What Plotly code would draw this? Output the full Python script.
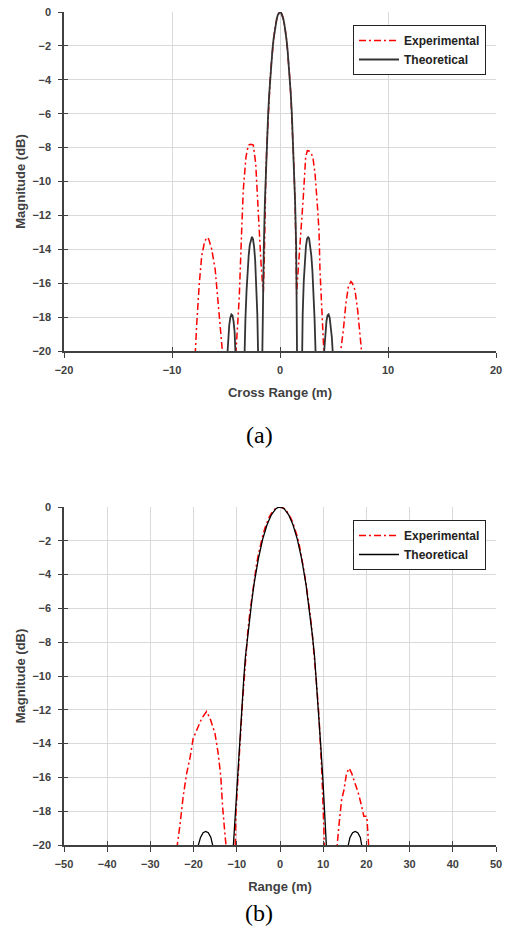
import plotly.graph_objects as go

# ---------------- data: (a) cross range ----------------
cr_theo_x = [-5.0, -4.9, -4.8, -4.7, -4.6, -4.5, -4.4, -4.3, -4.2, -4.1, -4.0, -3.9, -3.8, -3.7, -3.6, -3.5,
             -3.4, -3.3, -3.2, -3.1, -3.0, -2.9, -2.8, -2.7, -2.6, -2.5, -2.4, -2.3, -2.2, -2.1, -2.0, -1.9,
             -1.8, -1.7, -1.6, -1.5, -1.4, -1.3, -1.2, -1.1, -1.0, -0.9, -0.8, -0.7, -0.6, -0.5, -0.4, -0.3,
             -0.2, -0.1, 0.0, 0.1, 0.2, 0.3, 0.4, 0.5, 0.6, 0.7, 0.8, 0.9, 1.0, 1.1, 1.2, 1.3, 1.4, 1.5, 1.6,
             1.7, 1.8, 1.9, 2.0, 2.1, 2.2, 2.3, 2.4, 2.5, 2.6, 2.7, 2.8, 2.9, 3.0, 3.1, 3.2, 3.3, 3.4, 3.5,
             3.6, 3.7, 3.8, 3.9, 4.0, 4.1, 4.2, 4.3, 4.4, 4.5, 4.6, 4.7, 4.8, 4.9, 5.0]
cr_theo_db = [-21.5, -20.24, -19.20, -18.48, -18.03, -17.84, -17.90, -18.25, -18.89, -19.93, -21.48, -23.8,
              -27.6, -35.8, -39.1, -28.06, -23.28, -20.22, -18.10, -16.48, -15.26, -14.37, -13.75, -13.38,
              -13.26, -13.40, -13.84, -14.63, -15.88, -17.84, -21.05, -27.53, -39.1, -23.09, -17.45, -13.86,
              -11.24, -9.16, -7.47, -6.05, -4.85, -3.83, -2.96, -2.23, -1.61, -1.11, -0.70, -0.39, -0.17,
              -0.04, 0.0, -0.04, -0.17, -0.39, -0.70, -1.11, -1.61, -2.23, -2.96, -3.83, -4.85, -6.05, -7.47,
              -9.16, -11.24, -13.86, -17.45, -23.09, -39.1, -27.53, -21.05, -17.84, -15.88, -14.63, -13.84,
              -13.40, -13.26, -13.38, -13.75, -14.37, -15.26, -16.48, -18.10, -20.22, -23.28, -28.06, -39.1,
              -35.8, -27.6, -23.8, -21.48, -19.93, -18.89, -18.25, -17.90, -17.84, -18.03, -18.48, -19.20,
              -20.24, -21.5]

cr_exp_x = [-8.0, -7.85, -7.7, -7.47, -7.25, -7.0, -6.8, -6.6, -6.32, -6.0, -5.86, -5.62, -5.34, -5.2, -4.6,
            -4.2, -4.07, -3.9, -3.77, -3.55, -3.4, -3.15, -2.93, -2.7, -2.47, -2.25, -2.1, -1.91, -1.76, -1.6,
            -1.54, -1.45, -1.4, -1.3, -1.2, -1.1, -1.0, -0.9, -0.8, -0.7, -0.6, -0.5, -0.4, -0.3, -0.2, -0.1,
            0.0, 0.1, 0.2, 0.3, 0.4, 0.5, 0.6, 0.7, 0.8, 0.9, 1.0, 1.1, 1.2, 1.3, 1.4, 1.48, 1.54, 1.62, 1.85,
            2.0, 2.16, 2.38, 2.53, 2.7, 2.9, 3.05, 3.24, 3.45, 3.61, 3.7, 3.86, 4.0, 4.1, 4.8, 5.5, 5.62, 5.86,
            6.1, 6.33, 6.57, 6.7, 6.94, 7.19, 7.4, 7.6, 7.7]
cr_exp_db = [-22, -20.0, -18.3, -16.0, -14.4, -13.6, -13.3, -13.4, -14.0, -15.2, -16.2, -18.0, -19.75, -21,
             -30, -21, -20.0, -18.5, -16.8, -12.9, -10.5, -8.54, -7.85, -7.8, -7.85, -8.93, -10.9, -13.3,
             -14.8, -16.2, -16.5, -14.5, -12.0, -9.3, -7.6, -6.1, -4.9, -3.9, -3.0, -2.2, -1.6, -1.1, -0.7,
             -0.4, -0.17, -0.05, 0.0, -0.05, -0.17, -0.4, -0.72, -1.1, -1.6, -2.25, -3.0, -3.85, -4.9, -6.1,
             -7.6, -9.3, -11.4, -14.0, -16.6, -15.8, -13.85, -12.4, -10.9, -8.54, -8.18, -8.2, -8.35, -8.6,
             -9.5, -11.3, -12.9, -15.2, -18.0, -19.75, -21, -30, -21, -20.0, -18.8, -17.2, -16.2, -15.9,
             -16.0, -16.4, -17.6, -18.8, -19.95, -21]

# ---------------- data: (b) range ----------------
r_theo_x = [-21.5, -19.2, -18.9, -18.4, -17.8, -17.2, -16.6, -16.0, -15.6, -15.3, -13.2, -11.2, -10.8, -10.4,
            -9.9, -9.4, -8.95, -8.4, -8.0, -7.5, -7.0, -6.5, -6.0, -5.0, -4.0, -3.0, -2.0, -1.0, -0.5, 0.0,
            0.5, 1.0, 2.0, 3.0, 4.0, 5.0, 6.0, 6.5, 7.0, 7.5, 8.0, 8.4, 8.95, 9.4, 9.9, 10.4, 10.8, 11.2,
            13.2, 15.5, 15.8, 16.2, 16.8, 17.4, 18.0, 18.6, 18.9, 19.2, 21.5]
r_theo_db = [-30, -21, -20.0, -19.55, -19.27, -19.2, -19.27, -19.55, -20.0, -21, -32, -21.7, -20.0, -18.0,
             -16.0, -14.0, -12.0, -10.2, -8.85, -7.6, -6.5, -5.5, -4.55, -3.06, -1.9, -1.05, -0.46, -0.11,
             -0.03, 0.0, -0.03, -0.11, -0.46, -1.05, -1.9, -3.06, -4.55, -5.5, -6.5, -7.6, -8.85, -10.2,
             -12.0, -14.0, -16.0, -18.0, -20.0, -21.7, -32, -21, -20.0, -19.55, -19.27, -19.2, -19.27, -19.55,
             -20.0, -21, -30]

r_exp_x = [-24.2, -23.77, -23.1, -22.4, -21.6, -20.8, -20.1, -18.9, -18.1, -17.0, -16.2, -15.05, -14.3, -13.7,
           -13.3, -12.7, -12.5, -11.5, -10.5, -10.35, -10.2, -9.64, -9.26, -8.64, -8.0, -7.5, -7.0, -6.5, -6.0,
           -5.5, -5.0, -4.5, -4.0, -3.5, -3.0, -2.5, -2.0, -1.5, -1.0, -0.5, 0.0, 0.5, 1.0, 1.5, 2.0, 2.5,
           3.0, 3.5, 4.0, 4.5, 5.0, 5.5, 6.0, 6.5, 7.0, 7.5, 8.0, 8.5, 9.0, 9.4, 9.7, 10.0, 10.25, 10.4,
           12.5, 13.1, 13.27, 13.7, 14.27, 14.8, 15.4, 16.0, 16.6, 17.36, 18.1, 18.9, 19.4, 20.1, 20.45,
           20.6, 21.0]
r_exp_db = [-22, -20.0, -18.7, -17.1, -15.76, -14.8, -13.7, -13.0, -12.5, -12.1, -12.5, -13.4, -14.6, -15.96,
            -17.7, -19.5, -20.0, -26, -21, -20.0, -18.1, -16.0, -14.0, -11.4, -8.9, -7.5, -6.3, -5.3, -4.3,
            -3.5, -2.8, -2.2, -1.7, -1.25, -0.9, -0.6, -0.38, -0.2, -0.08, -0.02, 0.0, -0.04, -0.1, -0.22,
            -0.4, -0.65, -0.95, -1.35, -1.75, -2.3, -2.9, -3.7, -4.5, -5.4, -6.4, -7.6, -8.9, -10.6, -12.3,
            -14.0, -15.8, -17.9, -19.9, -21, -26, -21, -19.9, -18.7, -17.3, -16.75, -15.76, -15.46, -15.76,
            -16.35, -16.9, -17.7, -18.3, -18.3, -19.5, -19.9, -22]

y_ticks = [0, -2, -4, -6, -8, -10, -12, -14, -16, -18, -20]
cr_ticks = [-20, -10, 0, 10, 20]
r_ticks = [-50, -40, -30, -20, -10, 0, 10, 20, 30, 40, 50]

W, H = 505, 941
FONT = "Liberation Sans, Arial, sans-serif"
SERIF = "Liberation Serif, Times New Roman, serif"
AXC = "#404040"
RED_DASH = "7px,3px,2px,3px"

fig = go.Figure()

# (a)
fig.add_trace(go.Scatter(x=cr_exp_x, y=cr_exp_db, mode="lines", name="Experimental",
                         line=dict(color="#ff0000", width=1.5, dash=RED_DASH), xaxis="x", yaxis="y",
                         legend="legend"))
fig.add_trace(go.Scatter(x=cr_theo_x, y=cr_theo_db, mode="lines", name="Theoretical",
                         line=dict(color="#333333", width=1.8), xaxis="x", yaxis="y", legend="legend"))
# (b)
fig.add_trace(go.Scatter(x=r_exp_x, y=r_exp_db, mode="lines", name="Experimental",
                         line=dict(color="#ff0000", width=1.5, dash=RED_DASH), xaxis="x2", yaxis="y2",
                         legend="legend2"))
fig.add_trace(go.Scatter(x=r_theo_x, y=r_theo_db, mode="lines", name="Theoretical",
                         line=dict(color="#000000", width=1.3), xaxis="x2", yaxis="y2", legend="legend2"))

# empty traces for the inner tick overlays
for xa, ya in (("x3", "y3"), ("x4", "y4")):
    fig.add_trace(go.Scatter(x=[], y=[], xaxis=xa, yaxis=ya, showlegend=False, hoverinfo="skip"))

xdom = [64 / W, 496 / W]
ydom_a = [1 - 351 / H, 1 - 12 / H]
ydom_b = [1 - 845 / H, 1 - 507 / H]

tickfont = dict(family=FONT, size=11, color=AXC, weight="bold")
titlefont = dict(family=FONT, size=13, color=AXC, weight="bold")


def xax(rng, ticks, title, anchor):
    return dict(domain=xdom, range=rng, tickvals=ticks, ticks="outside", ticklen=5, tickwidth=1,
                tickcolor=AXC, showline=True, linecolor=AXC, linewidth=1.5, showgrid=True,
                gridcolor="#d9d9d9", gridwidth=1, zeroline=False, tickfont=tickfont, automargin=False,
                ticklabelstandoff=3,
                title=dict(text=title, font=titlefont, standoff=13), anchor=anchor, fixedrange=True)


def yax(anchor, dom):
    return dict(domain=dom, range=[-20, 0], tickvals=y_ticks, ticks="outside", ticklen=4, tickwidth=1,
                tickcolor=AXC, showline=True, linecolor=AXC, linewidth=1.5, showgrid=True,
                gridcolor="#d9d9d9", gridwidth=1, zeroline=False, tickfont=tickfont, automargin=False,
                ticklabelstandoff=5,
                title=dict(text="Magnitude (dB)", font=titlefont, standoff=4), anchor=anchor,
                fixedrange=True)


def x_in(rng, ticks, over, anchor):
    return dict(domain=xdom, range=rng, tickvals=ticks, ticks="inside", ticklen=4, tickwidth=1,
                tickcolor=AXC, showticklabels=False, showline=False, showgrid=False, zeroline=False,
                overlaying=over, anchor=anchor, side="bottom", fixedrange=True, automargin=False)


def y_in(over, anchor, dom):
    return dict(domain=dom, range=[-20, 0], tickvals=y_ticks, ticks="inside", ticklen=4, tickwidth=1,
                tickcolor=AXC, showticklabels=False, showline=False, showgrid=False, zeroline=False,
                overlaying=over, anchor=anchor, side="left", fixedrange=True, automargin=False)


legend_common = dict(bgcolor="white", bordercolor="#222222", borderwidth=1,
                     font=dict(family=FONT, size=12, color="#222222", weight="bold"),
                     xanchor="left", yanchor="top", itemwidth=40, tracegroupgap=0)

fig.update_layout(
    width=W, height=H, margin=dict(l=0, r=0, t=0, b=0, autoexpand=False),
    paper_bgcolor="white", plot_bgcolor="white", hovermode=False,
    xaxis=xax([-20, 20], cr_ticks, "Cross Range (m)", "y"),
    yaxis=yax("x", ydom_a),
    xaxis2=xax([-50, 50], r_ticks, "Range (m)", "y2"),
    yaxis2=yax("x2", ydom_b),
    xaxis3=x_in([-20, 20], cr_ticks, "x", "y"),
    yaxis3=y_in("y", "x", ydom_a),
    xaxis4=x_in([-50, 50], r_ticks, "x2", "y2"),
    yaxis4=y_in("y2", "x2", ydom_b),
    legend=dict(x=353 / W, y=1 - 25 / H, **legend_common),
    legend2=dict(x=353 / W, y=1 - 520 / H, **legend_common),
    annotations=[
        dict(text="(a)", x=259 / W, y=1 - 435 / H, xref="paper", yref="paper", showarrow=False,
             font=dict(family=SERIF, size=24, color="black")),
        dict(text="(b)", x=259 / W, y=1 - 928 / H, xref="paper", yref="paper", showarrow=False,
             font=dict(family=SERIF, size=24, color="black")),
    ],
)

fig.write_html("out.html", config={"displayModeBar": False},
               post_script="document.body.style.margin='0';document.body.style.overflow='hidden';")
